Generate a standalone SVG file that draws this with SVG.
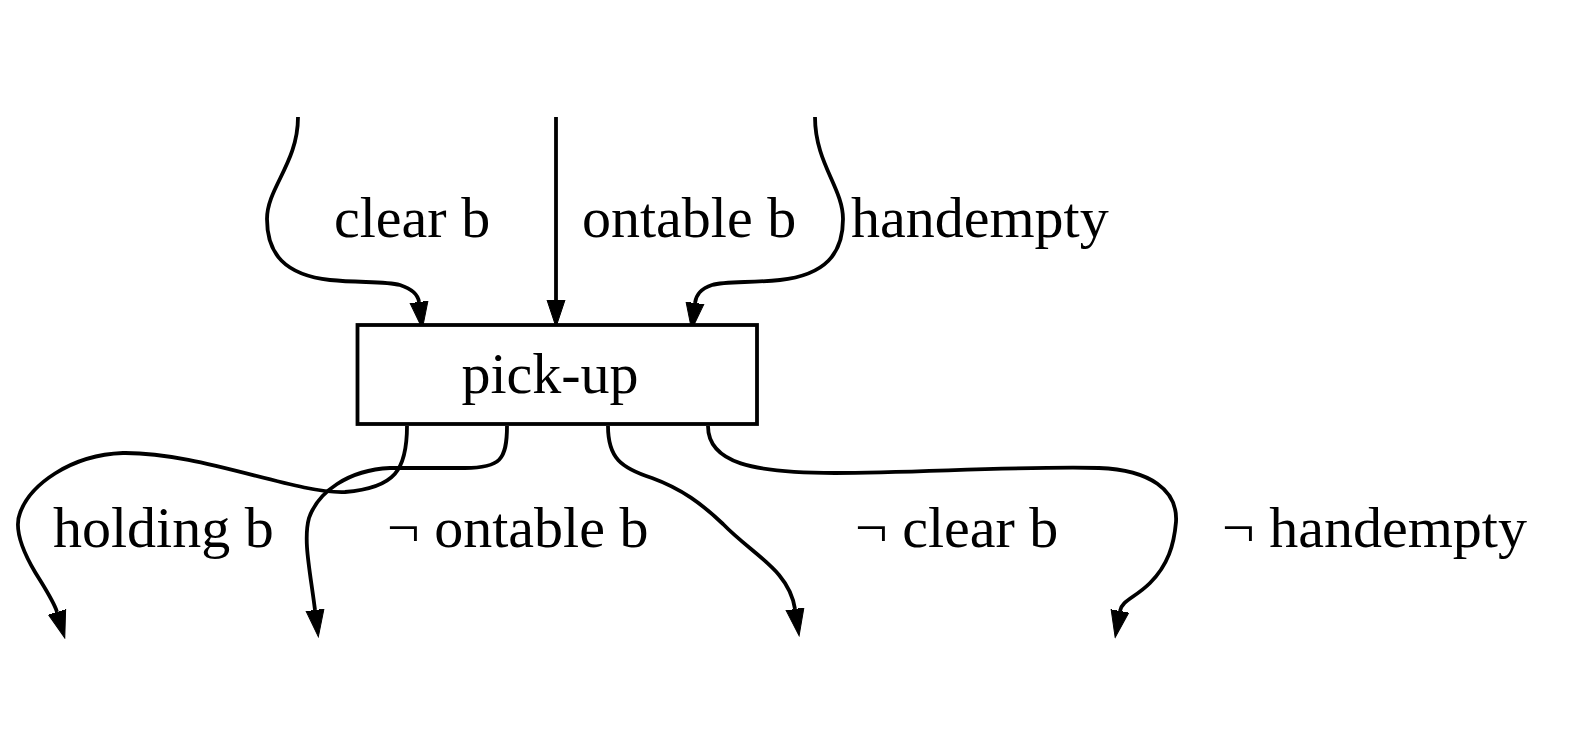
<svg xmlns="http://www.w3.org/2000/svg" width="1595" height="750" viewBox="0 0 1595 750">
<defs>
<marker id="arr" markerUnits="userSpaceOnUse" viewBox="0 0 28 20" refX="0" refY="10" markerWidth="28" markerHeight="20" orient="auto">
<path d="M0,1 L27,10 L0,19 Z" fill="#000" stroke="#000" stroke-width="1"/>
</marker>
<style>
.e{fill:none;stroke:#000;stroke-width:3.8;marker-end:url(#arr)}
.t{font-family:"Liberation Serif","Times New Roman",serif;font-size:58px;fill:#000}
</style>
</defs>
<rect width="1595" height="750" fill="#fff"/>
<g id="connectors">
<path class="e" d="M298,117 C298,163 267,188 267,219 C267,254 285,275 330,280 C360,283 385,281 400,285 C412,289 418,294 419,302"/>
<path class="e" d="M556,117 L556,300"/>
<path class="e" d="M815,117 C815,163 843,188 843,219 C843,254 825,275 780,280 C750,283 725,281 712,285 C700,289 696,295 695,303"/>
<path class="e" d="M407,426 C407,470 395,488 345,492 C295,494 200,452 123,453 C70,455 30,485 20,513 C14,528 22,550 35,572 C46,590 54,602 57,612"/>
<path class="e" d="M507,426 C507,460 500,468 465,468 L390,468 C348,470 318,492 309,518 C303,540 310,570 315,610"/>
<path class="e" d="M608,426 C608,458 621,468 652,478 C682,489 702,504 723,524 C753,555 789,570 795,609"/>
<path class="e" d="M708,426 C708,463 753,473 835,473 C916,473 1018,466 1099,468 C1150,470 1178,490 1176,522 C1174,545 1168,565 1150,583 C1135,598 1122,600 1120,611"/>
</g>
<g id="edge-labels">
<text class="t" x="334" y="237">clear b</text>
<text class="t" x="582" y="237">ontable b</text>
<text class="t" x="851" y="237">handempty</text>
<text class="t" x="53" y="547">holding b</text>
<text class="t" x="387" y="547">¬ ontable b</text>
<text class="t" x="855" y="547">¬ clear b</text>
<text class="t" x="1222" y="547">¬ handempty</text>
</g>
<g id="pick-up">
<rect x="357.5" y="325" width="399.5" height="99" fill="#fff" stroke="#000" stroke-width="3.8"/>
<text class="t" x="550" y="393" text-anchor="middle">pick-up</text>
</g>
</svg>
